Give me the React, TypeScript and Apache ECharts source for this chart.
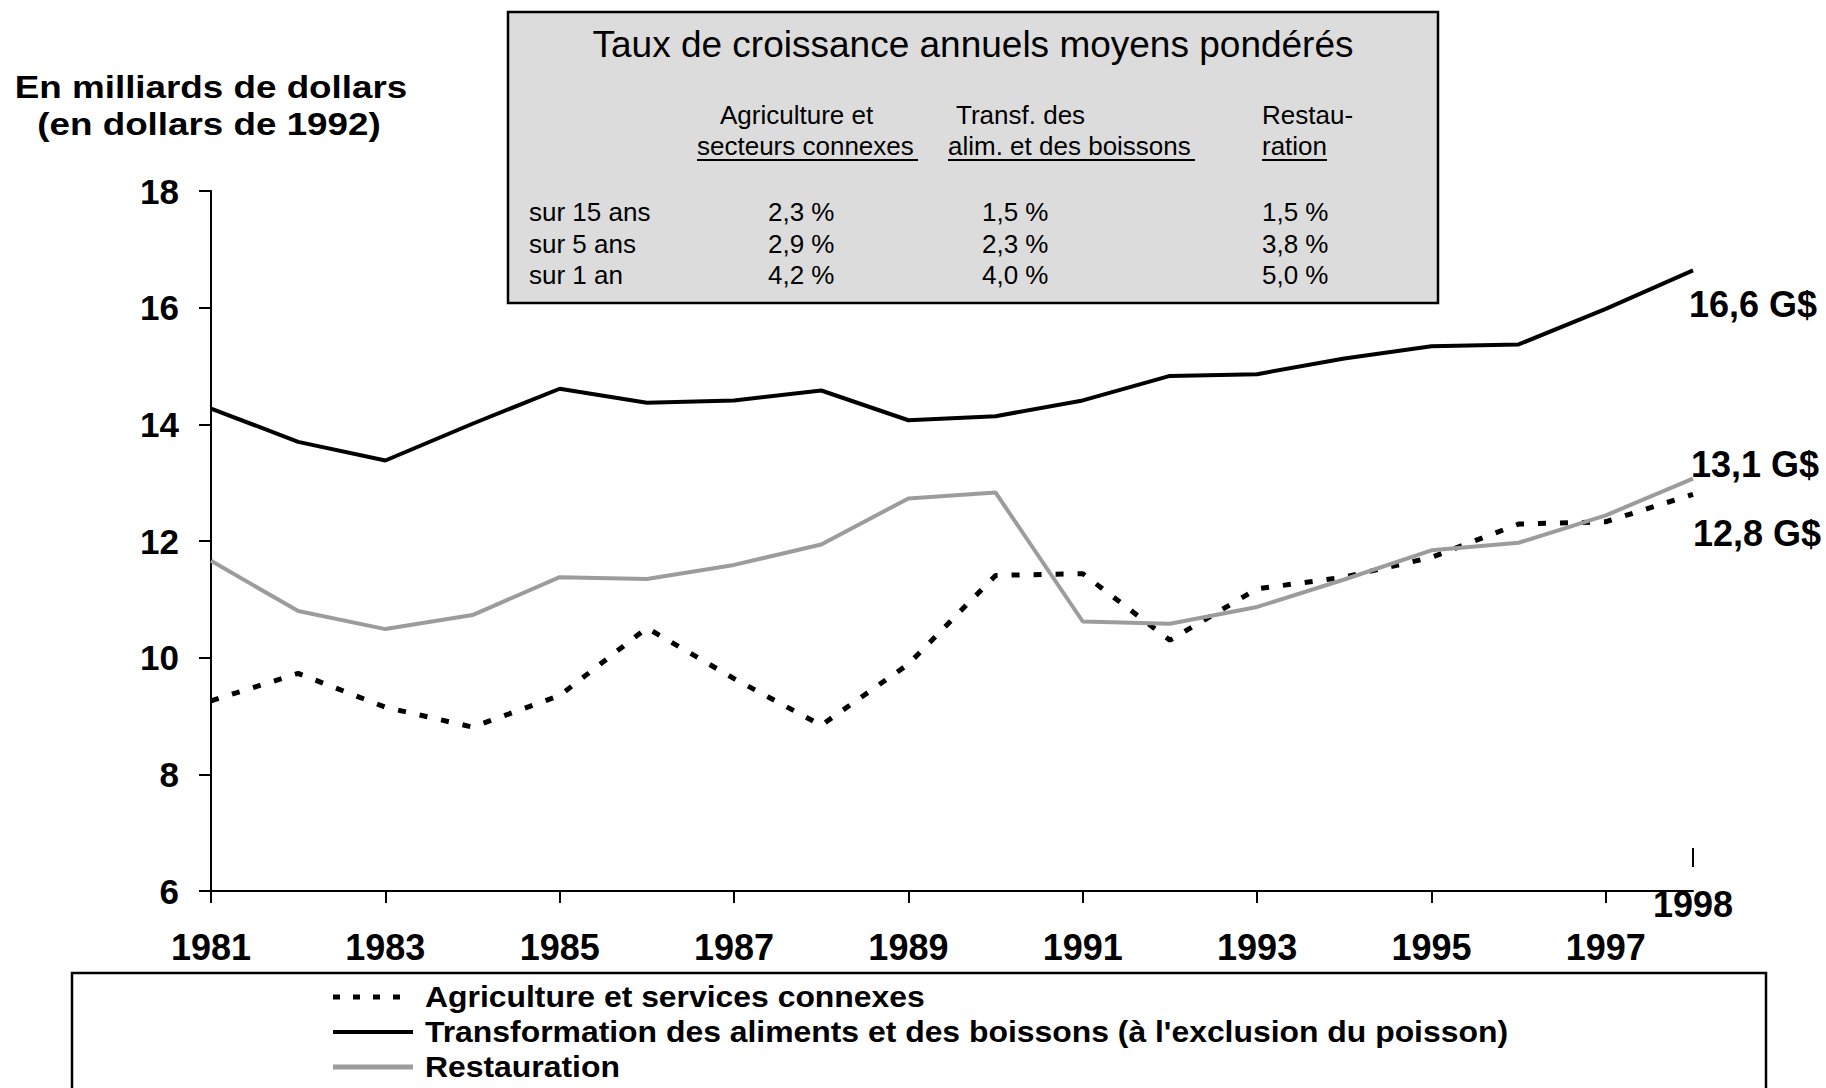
import React, { useEffect, useRef } from "react";
import * as echarts from "echarts";

const FONT = "'Liberation Sans', Arial, sans-serif";

const years = ["1981", "1982", "1983", "1984", "1985", "1986", "1987", "1988", "1989", "1990", "1991", "1992", "1993", "1994", "1995", "1996", "1997", "1998"];
const agriculture = [9.26, 9.73, 9.15, 8.81, 9.35, 10.51, 9.64, 8.84, 9.89, 11.41, 11.44, 10.3, 11.18, 11.38, 11.72, 12.29, 12.33, 12.8];
const transformation = [14.27, 13.7, 13.38, 14.01, 14.61, 14.37, 14.41, 14.58, 14.07, 14.14, 14.41, 14.83, 14.86, 15.13, 15.34, 15.37, 15.98, 16.64];
const restauration = [11.66, 10.8, 10.49, 10.73, 11.38, 11.35, 11.59, 11.94, 12.73, 12.83, 10.62, 10.58, 10.87, 11.34, 11.84, 11.97, 12.44, 13.07];

const seriesNames = [
  "Agriculture et services connexes",
  "Transformation des aliments et des boissons (à l'exclusion du poisson)",
  "Restauration",
];
const endLabels = ["12,8 G$", "16,6 G$", "13,1 G$"];

const yMin = 6;
const yMax = 18;
const yStep = 2;

const axisTitle = ["En milliards de dollars", "(en dollars de 1992)"];

const tableTitle = "Taux de croissance annuels moyens pondérés";
const tableHeadTop = ["Agriculture et", "Transf. des", "Restau-"];
const tableHeadBottom = ["secteurs connexes", "alim. et des boissons", "ration"];
const tableRowLabels = ["sur 15 ans", "sur 5 ans", "sur 1 an"];
const tableAgri = ["2,3 %", "2,9 %", "4,2 %"];
const tableTransf = ["1,5 %", "2,3 %", "4,0 %"];
const tableResto = ["1,5 %", "3,8 %", "5,0 %"];

const showEveryOther = (i: number) => i % 2 === 0 && i < years.length - 1;

function txt(text: string, x: number, y: number, size: number, opts: any = {}) {
  return {
    type: "text",
    x,
    y,
    scaleX: opts.scaleX ?? 1,
    style: {
      text,
      x: 0,
      y: 0,
      fill: "#000",
      fontSize: size,
      fontWeight: opts.bold ? "bold" : "normal",
      fontFamily: FONT,
      align: opts.align ?? "left",
      verticalAlign: "middle",
    },
    z: 10,
  };
}

function hline(x1: number, x2: number, y: number, stroke: string, width: number, dash?: number[]) {
  return {
    type: "line",
    shape: { x1, y1: y, x2, y2: y },
    style: { stroke, lineWidth: width, lineDash: dash },
    z: 10,
  };
}

export default function App() {
  const ref = useRef<HTMLDivElement>(null);

  useEffect(() => {
    if (!ref.current) return;
    const chart = echarts.init(ref.current, undefined, { renderer: "svg" });

    const tableCols = [
      { headX: [720, 697], valX: 768, vals: tableAgri, ul: [697, 918] },
      { headX: [956, 948], valX: 982, vals: tableTransf, ul: [948, 1195] },
      { headX: [1262, 1262], valX: 1262, vals: tableResto, ul: [1262, 1327] },
    ];
    const rowY = [212, 243.5, 275];

    const graphics: any[] = [
      {
        type: "rect",
        shape: { x: 508, y: 12, width: 930, height: 291 },
        style: { fill: "#dcdcdc", stroke: "#000", lineWidth: 2.5 },
        z: 5,
      },
      txt(tableTitle, 973, 44, 37, { align: "center" }),
    ];
    tableCols.forEach((c, ci) => {
      graphics.push(txt(tableHeadTop[ci], c.headX[0], 115, 26));
      graphics.push(txt(tableHeadBottom[ci], c.headX[1], 146, 26));
      graphics.push(hline(c.ul[0], c.ul[1], 160, "#000", 2));
      c.vals.forEach((v, ri) => graphics.push(txt(v, c.valX, rowY[ri], 26)));
    });
    tableRowLabels.forEach((l, ri) => graphics.push(txt(l, 529, rowY[ri], 26)));

    graphics.push(txt(axisTitle[0], 211, 87, 32, { bold: true, align: "center", scaleX: 1.15 }));
    graphics.push(txt(axisTitle[1], 209, 124, 32, { bold: true, align: "center", scaleX: 1.15 }));

    // legend box
    graphics.push({
      type: "rect",
      shape: { x: 72, y: 973, width: 1694, height: 140 },
      style: { fill: "#fff", stroke: "#000", lineWidth: 2.5 },
      z: 5,
    });
    const legendY = [997, 1032, 1067];
    graphics.push(hline(333, 413, legendY[0], "#000", 5, [7, 13]));
    graphics.push(hline(333, 413, legendY[1], "#000", 4));
    graphics.push(hline(333, 413, legendY[2], "#9c9c9c", 5));
    seriesNames.forEach((n, i) => graphics.push(txt(n, 425, legendY[i], 29, { bold: true, scaleX: 1.1 })));

    const labelStyle = {
      fontSize: 36,
      fontWeight: "bold",
      fontFamily: FONT,
      color: "#000",
    };

    const mkEnd = (text: string, offset: number[]) => ({
      show: true,
      formatter: () => text,
      distance: 0,
      offset,
      align: "left",
      verticalAlign: "middle",
      ...labelStyle,
    });

    chart.setOption({
      animation: false,
      backgroundColor: "#fff",
      grid: { left: 211, top: 191, width: 1482, height: 700, containLabel: false },
      xAxis: {
        type: "category",
        data: years,
        boundaryGap: false,
        axisLine: { onZero: false, lineStyle: { color: "#000", width: 2 } },
        axisTick: { interval: showEveryOther, length: 12, lineStyle: { color: "#000", width: 2 } },
        axisLabel: { interval: showEveryOther, margin: 38, ...labelStyle },
        splitLine: { show: false },
      },
      yAxis: {
        type: "value",
        min: yMin,
        max: yMax,
        interval: yStep,
        axisLine: { show: true, lineStyle: { color: "#000", width: 2 } },
        axisTick: { show: true, length: 12, lineStyle: { color: "#000", width: 2 } },
        axisLabel: { margin: 32, ...labelStyle, fontSize: 35 },
        splitLine: { show: false },
      },
      series: [
        {
          name: seriesNames[0],
          type: "line",
          data: agriculture,
          symbol: "none",
          lineStyle: { color: "#000", width: 5, type: [8, 14] },
          endLabel: mkEnd(endLabels[0], [0, 39]),
          z: 2,
        },
        {
          name: seriesNames[1],
          type: "line",
          data: transformation,
          symbol: "none",
          lineStyle: { color: "#000", width: 4 },
          endLabel: mkEnd(endLabels[1], [-4, 34]),
          z: 3,
        },
        {
          name: seriesNames[2],
          type: "line",
          data: restauration,
          symbol: "none",
          lineStyle: { color: "#9c9c9c", width: 4 },
          endLabel: mkEnd(endLabels[2], [-2, -14]),
          z: 4,
        },
      ],
      graphic: graphics,
    });

    const last = years[years.length - 1];
    const p = chart.convertToPixel({ gridIndex: 0 }, [last, yMin]) as number[];
    if (p && isFinite(p[0])) {
      chart.setOption({
        graphic: [
          ...graphics,
          {
            type: "line",
            shape: { x1: p[0], y1: p[1] - 43, x2: p[0], y2: p[1] - 24 },
            style: { stroke: "#000", lineWidth: 2 },
            z: 10,
          },
          txt(last, p[0], p[1] + 13, 36, { bold: true, align: "center" }),
        ],
      });
    }

    return () => chart.dispose();
  }, []);

  return (
    <div
      ref={ref}
      style={{ position: "absolute", left: 0, top: 0, width: 1826, height: 1088 }}
    />
  );
}
